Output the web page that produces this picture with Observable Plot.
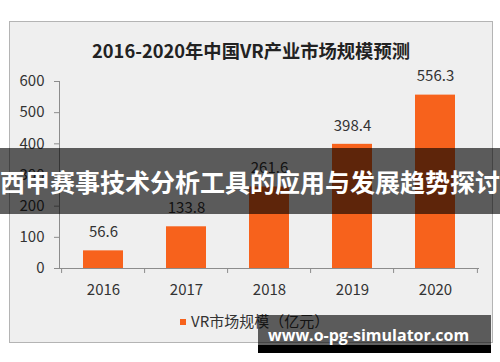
<!DOCTYPE html>
<html><head><meta charset="utf-8">
<script src="https://cdn.jsdelivr.net/npm/d3@7"></script>
<script src="https://cdn.jsdelivr.net/npm/@observablehq/plot@0.6"></script>
<style>
html,body{margin:0;padding:0;background:#fff;}
#wrap{position:relative;width:500px;height:362px;overflow:hidden;font-family:"Noto Sans CJK SC",sans-serif;}
#box{position:absolute;left:9px;top:21px;width:482px;height:320px;background:#efefef;border:1px solid #b4b4b4;}
#title{position:absolute;left:0;width:502px;top:37px;text-align:center;font-size:18.3px;font-weight:bold;color:#222;line-height:26px;}
#chart{position:absolute;left:0;top:0;}
#legend{position:absolute;left:180px;top:311px;font-size:15px;color:#333;line-height:20px;white-space:nowrap;}
#legend .sw{display:inline-block;width:6px;height:6px;margin-right:5px;vertical-align:middle;position:relative;top:-1px;}
#banner{position:absolute;left:0;top:148px;width:500px;height:66px;background:rgba(0,0,0,0.62);color:#fff;font-weight:bold;font-size:25px;line-height:66px;text-align:center;white-space:nowrap;}
#wm1{position:absolute;left:258px;top:315px;width:233px;height:30px;background:rgba(0,0,0,0.62);}
#wm2{position:absolute;left:258px;top:345px;width:233px;height:8px;background:#000;}
#wmt{position:absolute;left:268px;top:327px;font-family:"Open Sans",sans-serif;font-weight:bold;font-size:16px;line-height:16px;color:#fff;white-space:nowrap;}
</style></head>
<body>
<div id="wrap">
  <div id="box"></div>
  <div id="title"></div>
  <div id="chart"></div>
  <div id="legend"></div>
  <div id="banner"></div>
  <div id="wm1"></div><div id="wm2"></div>
  <div id="wmt"></div>
</div>
<script>
const titleText = "2016-2020年中国VR产业市场规模预测";
const years = ["2016", "2017", "2018", "2019", "2020"];
const values = [56.6, 133.8, 261.6, 398.4, 556.3];
const yTicks = [0, 100, 200, 300, 400, 500, 600];
const seriesName = "VR市场规模（亿元）";
const bannerText = "西甲赛事技术分析工具的应用与发展趋势探讨";
const watermark = "www.o-pg-simulator.com";

const barColor = "#f7621c";
const axisColor = "#8c8c8c";
const data = years.map((y, i) => ({year: y, value: values[i]}));

const W = 500, H = 362, mL = 59, mR = 22, mT = 81, mB = 94;
const step = (W - mL - mR) / years.length;

document.getElementById("title").textContent = titleText;
document.getElementById("banner").textContent = bannerText;
document.getElementById("wmt").textContent = watermark;
const lg = document.getElementById("legend");
const sw = document.createElement("span"); sw.className = "sw"; sw.style.background = barColor;
lg.appendChild(sw); lg.appendChild(document.createTextNode(seriesName));

const chart = Plot.plot({
  width: W, height: H,
  marginLeft: mL, marginRight: mR, marginTop: mT, marginBottom: mB,
  style: {background: "transparent", fontFamily: "'Noto Sans CJK SC', sans-serif", color: "#333", overflow: "visible"},
  x: {type: "band", domain: years, paddingInner: 0.52, paddingOuter: 0.26},
  y: {domain: [0, 600]},
  marks: [
    Plot.barY(data, {x: "year", y: "value", fill: barColor}),
    Plot.frame({anchor: "left", stroke: axisColor}),
    Plot.frame({anchor: "bottom", stroke: axisColor}),
    Plot.ruleX(years, {x: d => d, dx: -step / 2, y1: 0, y2: -16, stroke: axisColor}),
    Plot.ruleX(years.slice(-1), {x: d => d, dx: step / 2, y1: 0, y2: -16, stroke: axisColor}),
    Plot.axisY({ticks: yTicks, tickSize: 5, tickPadding: 10, fontSize: 15, stroke: axisColor, fill: "#333", label: null, tickFormat: d => String(d)}),
    Plot.axisX({tickSize: 0, tickPadding: 16, fontSize: 15, fill: "#333", label: null}),
    Plot.text(data, {x: "year", y: "value", text: d => d.value.toFixed(1), dy: -18.5, fontSize: 15, fill: "#333"})
  ]
});
document.getElementById("chart").appendChild(chart);
</script>
</body></html>
